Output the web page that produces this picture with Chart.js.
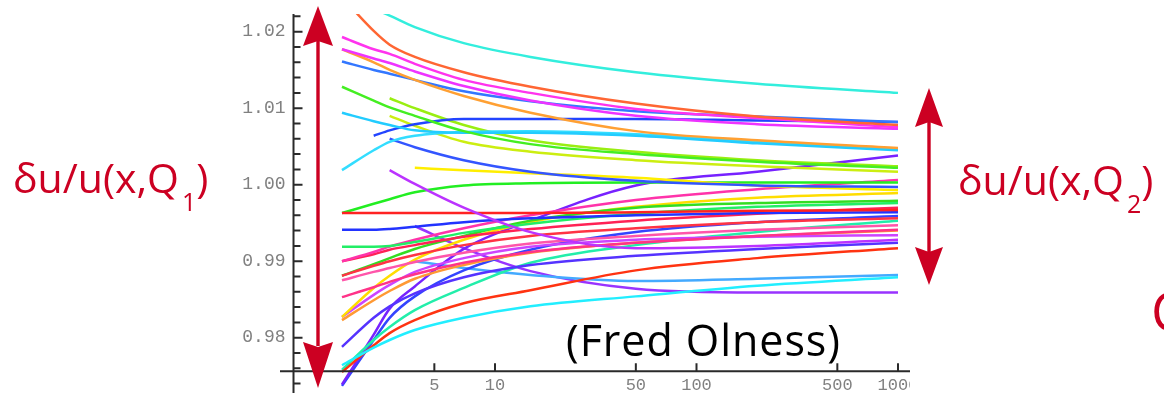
<!DOCTYPE html>
<html>
<head>
<meta charset="utf-8">
<script src="https://cdn.jsdelivr.net/npm/chart.js@4.4.1/dist/chart.umd.min.js"></script>
<style>
  html, body { margin: 0; padding: 0; background: #fff; overflow: hidden; }
  #stage { position: relative; width: 1164px; height: 393px; overflow: hidden; background: #fff; }
  #plot { position: absolute; left: 0; top: 0; width: 910px; height: 393px; }
  #notes { position: absolute; left: 0; top: 0; }
</style>
</head>
<body>
<div id="stage">
  <canvas id="plot" width="910" height="393"></canvas>
  <svg id="notes" width="1164" height="393" viewBox="0 0 1164 393" xmlns="http://www.w3.org/2000/svg">
    <g fill="#cc0022">
      <!-- spread at the starting scale -->
      <rect x="316.3" y="40" width="3.4" height="306"/>
      <polygon points="318,6 333,46 318,41 303,46"/>
      <polygon points="318,388 333,342 318,347 303,342"/>
      <!-- spread at the final scale -->
      <rect x="927.3" y="122" width="3.4" height="130"/>
      <polygon points="929,88 943,127 929,122 915,127"/>
      <polygon points="929,285 943,247 929,252 915,247"/>
    </g>
    <g font-family="'Open Sans', sans-serif" fill="#cc0022">
      <text x="13" y="192.5" font-size="41">δu/u(x,Q<tspan font-size="25" dx="3" dy="18">1</tspan><tspan font-size="41" dy="-18">)</tspan></text>
      <text x="958" y="195" font-size="41">δu/u(x,Q<tspan font-size="25" dx="3" dy="18">2</tspan><tspan font-size="41" dy="-18">)</tspan></text>
      <text x="1151" y="331" font-size="54">C</text>
    </g>
    <text x="566" y="356" font-family="'Open Sans', sans-serif" font-size="43" fill="#000" textLength="274" lengthAdjust="spacing">(Fred Olness)</text>
  </svg>
</div>
<script>
// Scale points Q (log axis) shared by every error-set member
const qValues = [1.74, 2.5, 3, 4, 7, 15, 50, 200, 1000];

// Ratio delta-u/u for each error-set member at the Q points above (null = not evaluated)
const member01 = [1.0252, 1.0230, 1.0221, 1.0206, 1.0185, 1.0167, 1.0147, 1.0132, 1.0120];
const member02 = [1.0245, 1.0201, 1.0183, 1.0167, 1.0147, 1.0128, 1.0106, 1.0089, 1.0078];
const member03 = [1.0193, 1.0177, 1.0171, 1.0158, 1.0137, 1.0120, 1.0099, 1.0087, 1.0075];
const member04 = [1.0177, 1.0165, 1.0159, 1.0148, 1.0129, 1.0110, 1.0090, 1.0079, 1.0073];
const member05 = [1.0177, 1.0160, 1.0150, 1.0137, 1.0116, 1.0094, 1.0070, 1.0058, 1.0048];
const member06 = [1.0161, 1.0150, 1.0145, 1.0137, 1.0122, 1.0109, 1.0096, 1.0089, 1.0082];
const member07 = [1.0128, 1.0110, 1.0101, 1.0090, 1.0070, 1.0053, 1.0040, 1.0030, 1.0022];
const member08 = [1.0094, 1.0083, 1.0078, 1.0071, 1.0068, 1.0068, 1.0064, 1.0054, 1.0045];
const member09 = [1.0019, 1.0045, 1.0056, 1.0064, 1.0069, 1.0070, 1.0066, 1.0056, 1.0047];
const member10 = [null, 1.0064, 1.0071, 1.0079, 1.0086, 1.0086, 1.0086, 1.0084, 1.0082];
const member11 = [null, null, 1.0113, 1.0100, 1.0078, 1.0058, 1.0043, 1.0032, 1.0024];
const member12 = [null, null, 1.0090, 1.0077, 1.0056, 1.0043, 1.0032, 1.0024, 1.0017];
const member13 = [null, null, 1.0060, 1.0049, 1.0032, 1.0017, 1.0005, 0.9999, 0.9997];
const member14 = [null, null, null, 1.0022, 1.0019, 1.0015, 1.0009, 0.9999, 0.9993];
const member15 = [null, null, 1.0019, 1.0001, 0.9970, 0.9938, 0.9917, 0.9920, 0.9928];
const member16 = [0.9963, 0.9963, 0.9963, 0.9963, 0.9963, 0.9963, 0.9964, 0.9966, 0.9967];
const member17 = [0.9963, 0.9975, 0.9981, 0.9990, 0.9999, 1.0002, 1.0003, 1.0003, 1.0003];
const member18 = [0.9941, 0.9941, 0.9942, 0.9945, 0.9951, 0.9956, 0.9960, 0.9963, 0.9964];
const member19 = [0.9919, 0.9919, 0.9920, 0.9925, 0.9937, 0.9949, 0.9962, 0.9971, 0.9976];
const member20 = [0.9900, 0.9912, 0.9919, 0.9928, 0.9943, 0.9960, 0.9980, 0.9994, 1.0006];
const member21 = [0.9900, 0.9909, 0.9915, 0.9921, 0.9932, 0.9942, 0.9953, 0.9962, 0.9970];
const member22 = [0.9881, 0.9894, 0.9900, 0.9908, 0.9921, 0.9933, 0.9943, 0.9951, 0.9956];
const member23 = [0.9881, 0.9896, 0.9904, 0.9916, 0.9933, 0.9953, 0.9970, 0.9976, 0.9979];
const member24 = [0.9875, 0.9886, 0.9891, 0.9899, 0.9911, 0.9923, 0.9933, 0.9941, 0.9947];
const member25 = [0.9853, 0.9866, 0.9873, 0.9883, 0.9898, 0.9912, 0.9924, 0.9933, 0.9941];
const member26 = [0.9827, 0.9865, 0.9881, 0.9902, 0.9928, 0.9951, 0.9971, 0.9983, 0.9989];
const member27 = [0.9827, 0.9856, 0.9869, 0.9886, 0.9904, 0.9919, 0.9928, 0.9932, 0.9934];
const member28 = [0.9823, 0.9849, 0.9861, 0.9877, 0.9895, 0.9911, 0.9924, 0.9933, 0.9940];
const member29 = [0.9788, 0.9826, 0.9841, 0.9858, 0.9879, 0.9895, 0.9907, 0.9916, 0.9924];
const member30 = [0.9764, 0.9787, 0.9797, 0.9810, 0.9826, 0.9841, 0.9854, 0.9868, 0.9879];
const member31 = [0.9755, 0.9790, 0.9806, 0.9823, 0.9845, 0.9862, 0.9888, 0.9904, 0.9917];
const member32 = [0.9758, 0.9797, 0.9814, 0.9836, 0.9865, 0.9898, 0.9921, 0.9938, 0.9953];
const member33 = [0.9739, 0.9804, 0.9838, 0.9867, 0.9916, 0.9953, 0.9999, 1.0017, 1.0038];
const member34 = [0.9737, 0.9797, 0.9826, 0.9854, 0.9888, 0.9915, 0.9938, 0.9951, 0.9959];
const member35 = [null, null, null, 0.9900, 0.9891, 0.9882, 0.9874, 0.9877, 0.9882];
const member36 = [null, null, null, 0.9946, 0.9917, 0.9887, 0.9864, 0.9859, 0.9859];

const memberColors = [
  '#33eedd', '#ff6633', '#ff33ee', '#ee33ff', '#ffa033', '#3377ff', '#44ee22', '#22ccff', '#33ddff',
  '#2244ff', '#99ee11', '#ccee11', '#3355ff', '#ffee00', '#bb33ff', '#ff2222', '#22ee22', '#2233ff',
  '#22ee66', '#ff33aa', '#ff2255', '#ff3344', '#33dd22', '#ff55aa', '#ff3388', '#ffdd00', '#cc44ff',
  '#ff9933', '#5533ff', '#22eeff', '#ff3311', '#22eeaa', '#7722ff', '#3344ff', '#44aaff', '#9933ff'
];

// Axis ticks and their labels
const xTickValues = [5, 10, 50, 100, 500, 1000];
const xTickLabels = ['5', '10', '50', '100', '500', '1000'];
const yTickValues = [0.98, 0.99, 1.00, 1.01, 1.02];
const yTickLabels = ['0.98', '0.99', '1.00', '1.01', '1.02'];
const yMinorStep = 0.002;

// Where the two axes cross (data coordinates)
const axisCrossQ = 1;
const axisCrossRatio = 0.9756;

const members = [
  member01, member02, member03, member04, member05, member06, member07, member08, member09,
  member10, member11, member12, member13, member14, member15, member16, member17, member18,
  member19, member20, member21, member22, member23, member24, member25, member26, member27,
  member28, member29, member30, member31, member32, member33, member34, member35, member36
];

const datasets = members.map((vals, i) => ({
  data: qValues.map((q, j) => ({ x: q, y: vals[j] })),
  borderColor: memberColors[i],
  borderWidth: 2.5,
  pointRadius: 0,
  fill: false,
  cubicInterpolationMode: 'monotone',
  spanGaps: false
}));

// Crossing axes with inward ticks, drawn through the chart's own scales
const crossAxes = {
  id: 'crossAxes',
  afterDatasetsDraw(chart) {
    const { ctx, chartArea, scales } = chart;
    const xs = scales.x, ys = scales.y;
    const x0 = xs.getPixelForValue(axisCrossQ);
    const y0 = ys.getPixelForValue(axisCrossRatio);
    ctx.save();
    ctx.strokeStyle = '#2a2a2a';
    ctx.lineWidth = 2;
    ctx.beginPath();
    ctx.moveTo(x0, chartArea.top);
    ctx.lineTo(x0, chartArea.bottom);
    ctx.moveTo(chartArea.left, y0);
    ctx.lineTo(chartArea.right, y0);
    ctx.stroke();

    // y ticks: minor every 0.002, pointing into the plot
    ctx.beginPath();
    const first = Math.ceil(ys.min / yMinorStep);
    const last = Math.floor(ys.max / yMinorStep);
    for (let k = first; k <= last; k++) {
      const v = k * yMinorStep;
      const py = ys.getPixelForValue(v);
      const major = yTickValues.some(t => Math.abs(t - v) < 1e-6);
      ctx.moveTo(x0, py);
      ctx.lineTo(x0 + (major ? 9 : 7), py);
    }
    // x ticks pointing up
    xTickValues.forEach(v => {
      const px = xs.getPixelForValue(v);
      ctx.moveTo(px, y0);
      ctx.lineTo(px, y0 - 8);
    });
    ctx.stroke();

    ctx.fillStyle = '#808080';
    ctx.font = '18px "Liberation Mono", monospace';
    ctx.textAlign = 'right';
    ctx.textBaseline = 'middle';
    yTickValues.forEach((v, i) => {
      ctx.fillText(yTickLabels[i], x0 - 8, ys.getPixelForValue(v));
    });
    ctx.textAlign = 'center';
    ctx.font = '17px "Liberation Mono", monospace';
    xTickValues.forEach((v, i) => {
      ctx.fillText(xTickLabels[i], xs.getPixelForValue(v), y0 + 14);
    });
    ctx.restore();
  }
};

new Chart(document.getElementById('plot'), {
  type: 'line',
  data: { datasets },
  options: {
    responsive: false,
    animation: false,
    devicePixelRatio: 1,
    layout: { padding: { left: 280, right: 0, top: 14, bottom: 0 } },
    scales: {
      x: { type: 'logarithmic', min: 0.857, max: 1147, display: false },
      y: { type: 'linear', min: 0.97277, max: 1.02231, display: false }
    },
    plugins: { legend: { display: false }, tooltip: { enabled: false } },
    elements: { line: { borderCapStyle: 'butt' } }
  },
  plugins: [crossAxes]
});
</script>
</body>
</html>
